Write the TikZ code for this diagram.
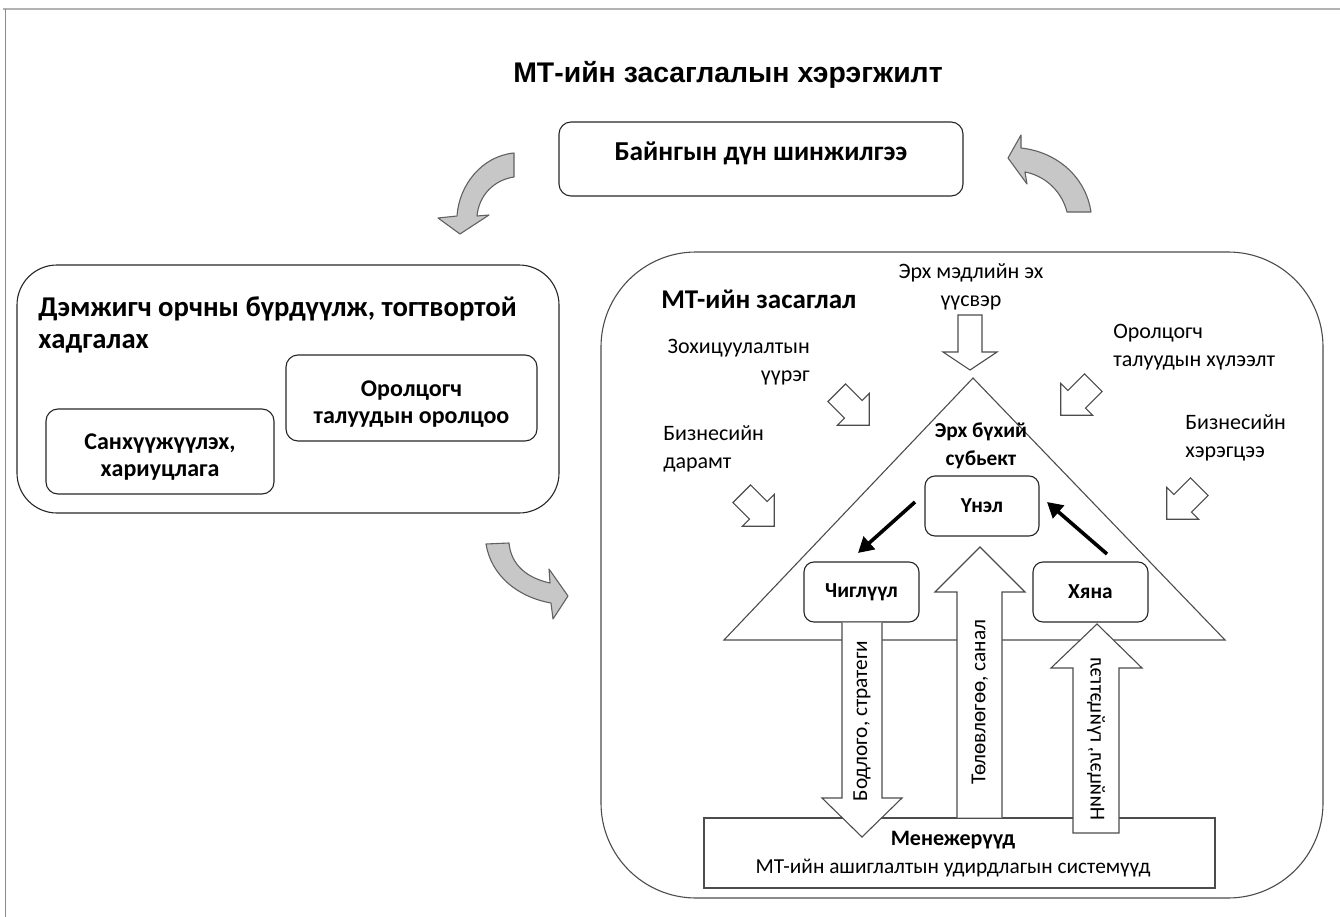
\documentclass[tikz,border=0pt]{standalone}
\usepackage{fontspec}
\setmainfont{Carlito}
\newfontfamily\arialf{Liberation Sans}
\usetikzlibrary{arrows.meta}
\newdimen\px \px=0.75pt
\newcommand\fsz[2]{\fontsize{#1}{#2}\selectfont}
\begin{document}
\begin{tikzpicture}[x=0.75pt,y=-0.75pt,
  rbox/.style={draw=black!85, line width=1.1\px, rounded corners=12\px, inner sep=0pt},
  hollow/.style={draw=black!70, fill=white, line width=1.1\px, line join=miter},
  garrow/.style={draw=black!62, fill=black!22, line width=1.1\px, line join=round},
  tri/.style={draw=black!70, line width=1.1\px},
  blk/.style={line width=2.7pt, -{Triangle[length=11.5pt,width=12.5pt]}},
  ttl/.style={font=\arialf\bfseries\fsz{21.3}{25}},
  bbig/.style={font=\bfseries\fsz{21.5}{24}, align=left, inner sep=0pt},
  bmid/.style={font=\bfseries\fsz{18}{20}, align=center, inner sep=0pt},
  reg/.style={font=\fsz{16.5}{21}, inner sep=0pt},
  bsm/.style={font=\bfseries\fsz{16}{21}, align=center, inner sep=0pt},
  lab/.style={font=\bfseries\fsz{16}{18}},
  rot/.style={font=\fsz{16}{18}, inner sep=0pt}]
\useasboundingbox (0,0) rectangle (1340,917);
% frame
\draw[black!30, line width=2\px] (3,9) -- (1340,9);
\draw[black!45, line width=1\px] (5,9) -- (5,917);

% title
\node[ttl] (title) at (728,75) {МТ-ийн засаглалын хэрэгжилт};

% top box
\node[rbox, minimum width=404\px, minimum height=74\px] (top) at (761,159) {};
\node[font=\bfseries\fsz{20.5}{23}, inner sep=0pt] (toptxt) at (761,153) {Байнгын дүн шинжилгээ};

% gray curved arrows
\draw[garrow] (514,153) .. controls (482,156) and (459,185) .. (457,216)
  -- (438,218) -- (460,234) -- (489,215) -- (477,216)
  .. controls (479,195) and (494,180) .. (514,177) -- cycle;
\draw[garrow] (1008,158) -- (1021,135) -- (1021,148)
  .. controls (1058,152) and (1086,178) .. (1091,212) -- (1067,212)
  .. controls (1062,192) and (1046,176) .. (1025,172) -- (1027,184) -- cycle;
\draw[garrow] (486,544) .. controls (491,575) and (517,597) .. (551,603)
  -- (553,619) -- (568,596) -- (549,569) -- (550,583)
  .. controls (527,578) and (511,565) .. (509,543) -- cycle;

% left box
\node[rbox, rounded corners=40\px, minimum width=542\px, minimum height=248\px] (left) at (288,389) {};
\node[bbig, anchor=west] (lefttxt) at (38,325) {Дэмжигч орчны бүрдүүлж, тогтвортой\\хадгалах};
\node[rbox, minimum width=251\px, minimum height=86\px] (oro) at (411.5,398) {};
\node[bmid] (orotxt) at (411.5,404) {Оролцогч\\талуудын оролцоо};
\node[rbox, minimum width=228\px, minimum height=85\px] (san) at (160,451.5) {};
\node[bmid] (santxt) at (160,457) {Санхүүжүүлэх,\\хариуцлага};

% right big box
\node[rbox, draw=black!70, rounded corners=95\px, minimum width=722\px, minimum height=646\px] (right) at (962,575) {};
\node[font=\bfseries\fsz{20.3}{23}, inner sep=0pt, anchor=west] (mttxt) at (661,299) {МТ-ийн засаглал};

% outside labels
\node[reg, align=center] (src) at (971,287) {Эрх мэдлийн эх\\үүсвэр};
\node[reg, align=right, anchor=east] (zoh) at (810,362) {Зохицуулалтын\\үүрэг};
\node[reg, align=left, anchor=west] (orol) at (1113,347) {Оролцогч\\талуудын хүлээлт};
\node[reg, align=left, anchor=west] (bizd) at (663,449) {Бизнесийн\\дарамт};
\node[reg, align=left, anchor=west] (bizh) at (1185,438) {Бизнесийн\\хэрэгцээ};

% triangle
\coordinate (apex) at (973,378);
\coordinate (bl) at (724,640);
\coordinate (br) at (1225,640);
\draw[tri] (apex) -- (bl) -- (br) -- cycle;

% hollow input arrows
\draw[hollow] (958,315) -- (982,315) -- (982,352) -- (997,352) -- (970,370) -- (943,352) -- (958,352) -- cycle;
\foreach \cx/\cy/\ang in {853/409/-45, 758/510/-45, 1077/399/-135, 1183/503/-135}{
  \draw[hollow, shift={(\cx,\cy)}, rotate=\ang]
    (-23,-12.5) -- (0.5,-12.5) -- (0.5,-22.5) -- (23,0) -- (0.5,22.5) -- (0.5,12.5) -- (-23,12.5) -- cycle;
}

\node[bsm] (subj) at (981,446) {Эрх бүхий\\субьект};
\node[rbox, rounded corners=10\px, minimum width=114\px, minimum height=60\px, lab] (unel) at (982,506) {Үнэл};
\node[rbox, rounded corners=10\px, minimum width=115\px, minimum height=60\px, lab] (chig) at (861.5,592) {Чиглүүл};
\node[rbox, rounded corners=10\px, minimum width=115\px, minimum height=60\px, lab] (hyana) at (1090.5,592) {Хяна};

% black arrows
\coordinate (a1s) at (915,502);
\coordinate (a1e) at (858,553);
\coordinate (a2s) at (1107,554);
\coordinate (a2e) at (1047,502);
\draw[blk] (a1s) -- (a1e);
\draw[blk] (a2s) -- (a2e);

% bottom box
\node[draw=black!70, line width=1.1\px, minimum width=511\px, minimum height=70\px, inner sep=0pt] (mgr) at (959.5,853) {};
\node[font=\bfseries\fsz{16.5}{20}, inner sep=0pt] (mgrt) at (953,840) {Менежерүүд};
\node[font=\fsz{16}{19}, inner sep=0pt] (mgrs) at (953,868) {МТ-ийн ашиглалтын удирдлагын системүүд};

% big block arrows
\draw[hollow] (842,622.6) -- (842,798) -- (822,798) -- (862,837) -- (902,798) -- (882,798) -- (882,622.6);
\draw[hollow] (957,817.5) -- (957,592) -- (935,592) -- (980,547) -- (1025,592) -- (1002,592) -- (1002,817.5);
\draw[hollow] (1073,833) -- (1073,668) -- (1051,668) -- (1097,624) -- (1142,668) -- (1119,668) -- (1119,833) -- cycle;

\node[rot, rotate=90] (t1) at (862,721) {Бодлого, стратеги};
\node[rot, rotate=90] (t2) at (980,702) {Төлөвлөгөө, санал};
\node[rot, rotate=90, yscale=-1] (t3) at (1096,739) {Нийцэл, гүйцэтгэл};
\end{tikzpicture}
\end{document}
